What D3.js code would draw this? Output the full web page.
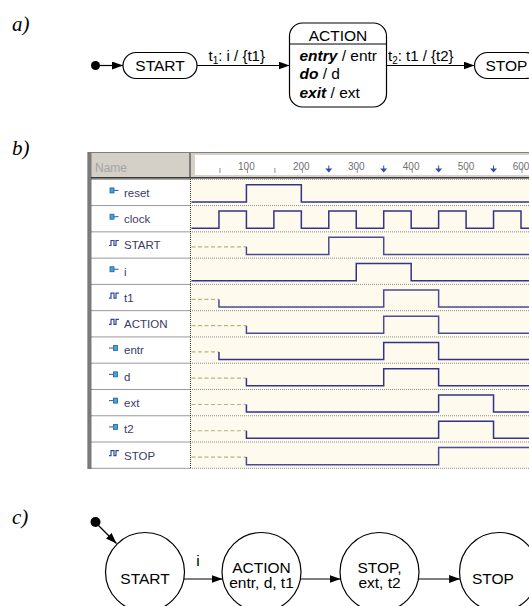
<!DOCTYPE html>
<html>
<head>
<meta charset="utf-8">
<script src="https://cdn.jsdelivr.net/npm/d3@7"></script>
<style>
body{margin:0;background:#fff;}
svg{display:block;}
</style>
</head>
<body>
<svg></svg>
<script>
var width = 529, height = 606;

// ---- b) waveform values
var signalNames = ["reset","clock","START","i","t1","ACTION","entr","d","ext","t2","STOP"];
var signalKinds = ["in","in","buried","in","buried","buried","out","out","out","out","buried"];
var unknownUntil = [0,0,100,0,50,100,50,100,100,100,100];
var highIntervals = [
  [[100,200]],
  [[50,100],[150,200],[250,300],[350,400],[450,500],[550,600]],
  [[250,350]],
  [[300,400]],
  [[350,450]],
  [[350,450]],
  [[350,450]],
  [[350,450]],
  [[450,550]],
  [[450,550]],
  [[450,640]]
];
var rulerLabels = [100,200,300,400,500,600];
var rulerMinor = [50,150];
var rulerMarkers = [250,350,450,550];

// ---- a) state chart
var aStates = ["START","ACTION","STOP"];
var aActions = [["entry","entr"],["do","d"],["exit","ext"]];
var aTransitions = [["t","1",": i / {t1}"],["t","2",": t1 / {t2}"]];

// ---- c) state diagram
var cStates = [["START"],["ACTION","entr, d, t1"],["STOP,","ext, t2"],["STOP"]];
var cLabels = ["i","",""];

var serif = "'Liberation Serif','Times New Roman',serif";
var sans = "'Liberation Sans',Arial,sans-serif";

var svg = d3.select("svg")
            .attr("width", width)
            .attr("height", height)
            .style("font-family", sans);

svg.append("defs").append("marker")
   .attr("id","arr")
   .attr("markerUnits","userSpaceOnUse")
   .attr("viewBox","0 0 11 8")
   .attr("markerWidth",11).attr("markerHeight",8)
   .attr("refX",11).attr("refY",4)
   .attr("orient","auto")
   .append("path").attr("d","M0,0L11,4L0,8Z").attr("fill","#000");

svg.select("defs").append("clipPath").attr("id","sigclip")
   .append("rect").attr("x",190).attr("y",175).attr("width",339).attr("height",300);

// panel letters
[["a)",31],["b)",155],["c)",524]].forEach(function(p){
  svg.append("text").attr("x",12).attr("y",p[1])
     .style("font-family",serif).style("font-style","italic").style("font-size","21px")
     .text(p[0]);
});

// ================= a)
var ga = svg.append("g").attr("stroke-width",1.2);
var yA = 65.5;
ga.append("circle").attr("cx",95.5).attr("cy",yA).attr("r",4.5).attr("fill","#000");
ga.append("line").attr("x1",100).attr("x2",123).attr("y1",yA).attr("y2",yA)
  .attr("stroke","#000").attr("marker-end","url(#arr)");

ga.append("rect").attr("x",123).attr("y",52.5).attr("width",74).attr("height",26).attr("rx",13)
  .attr("fill","#fff").attr("stroke","#000");
ga.append("text").attr("x",160).attr("y",70.5).attr("text-anchor","middle")
  .style("font-size","15.5px").text(aStates[0]);

ga.append("line").attr("x1",197).attr("x2",289.5).attr("y1",yA).attr("y2",yA)
  .attr("stroke","#000").attr("marker-end","url(#arr)");

ga.append("rect").attr("x",289.5).attr("y",23).attr("width",97).attr("height",84).attr("rx",13)
  .attr("fill","#fff").attr("stroke","#000");
ga.append("line").attr("x1",289.5).attr("x2",386.5).attr("y1",44).attr("y2",44).attr("stroke","#000");
ga.append("text").attr("x",338).attr("y",40.5).attr("text-anchor","middle")
  .style("font-size","15.5px").text(aStates[1]);
var actY = [61, 78.5, 98];
aActions.forEach(function(a,i){
  var t = ga.append("text").attr("x",299.5).attr("y",actY[i]).style("font-size","15.5px");
  t.append("tspan").style("font-weight","bold").style("font-style","italic").text(a[0]);
  t.append("tspan").text(" / " + a[1]);
});

ga.append("line").attr("x1",386.5).attr("x2",474.5).attr("y1",yA).attr("y2",yA)
  .attr("stroke","#000").attr("marker-end","url(#arr)");

ga.append("rect").attr("x",474.5).attr("y",52.5).attr("width",64).attr("height",26).attr("rx",13)
  .attr("fill","#fff").attr("stroke","#000");
ga.append("text").attr("x",506.5).attr("y",70.5).attr("text-anchor","middle")
  .style("font-size","15.5px").text(aStates[2]);

var trX = [208.5, 388];
aTransitions.forEach(function(tr,i){
  var t = ga.append("text").attr("x",trX[i]).attr("y",60.5).style("font-size","15px");
  t.append("tspan").text(tr[0]);
  t.append("tspan").attr("dy",3).style("font-size","10px").text(tr[1]);
  t.append("tspan").attr("dy",-3).text(tr[2]);
});

// ================= b)
var xScale = d3.scaleLinear().domain([0,600]).range([191.5,521]);
var yScale = d3.scaleBand().domain(signalNames).range([179.3,468.3]);
var bw = yScale.bandwidth();
var tEnd = xScale.invert(width);

var gb = svg.append("g");
// frame / header
gb.append("rect").attr("x",88).attr("y",152).attr("width",441).attr("height",27).attr("fill","#d4d0c8");
gb.append("line").attr("x1",87).attr("x2",529).attr("y1",152.5).attr("y2",152.5).attr("stroke","#808080");
gb.append("rect").attr("x",91.5).attr("y",179).attr("width",98.5).attr("height",289.3).attr("fill","#fff");
gb.append("rect").attr("x",190).attr("y",179).attr("width",339).attr("height",289.3).attr("fill","#fffaee");
gb.append("rect").attr("x",87).attr("y",152).attr("width",4.5).attr("height",317).attr("fill","#7a7a7a");
gb.append("line").attr("x1",87.5).attr("x2",87.5).attr("y1",152).attr("y2",469).attr("stroke","#a8a8a8");
gb.append("text").attr("x",95).attr("y",171.5).attr("fill","#a4a4a4").style("font-size","12px").text("Name");
gb.append("line").attr("x1",190).attr("x2",190).attr("y1",153).attr("y2",178).attr("stroke","#606060").attr("stroke-width",1.5);
gb.append("rect").attr("x",195).attr("y",155).attr("width",334).attr("height",20).attr("fill","#fff");
gb.append("line").attr("x1",91).attr("x2",529).attr("y1",177.8).attr("y2",177.8).attr("stroke","#3a3a3a").attr("stroke-width",1.5);

// ruler
gb.selectAll(".rl").data(rulerLabels).enter().append("text")
  .attr("x",d => xScale(d)).attr("y",170).attr("text-anchor","middle")
  .attr("fill","#707070").style("font-size","10px").text(d => d);
gb.selectAll(".rt").data(rulerLabels.concat(rulerMinor)).enter().append("line")
  .attr("x1",d => xScale(d)+1).attr("x2",d => xScale(d)+1).attr("y1",168).attr("y2",173)
  .attr("stroke","#909090");
gb.selectAll(".rm").data(rulerMarkers).enter().append("path")
  .attr("d",d => "M"+(xScale(d)-3.5)+",168.5h7l-3.5,4z M"+(xScale(d)-0.5)+",165.5h1v3h-1z")
  .attr("fill","#3050a8");

// row separators
var seps = [yScale.range()[0]].concat(signalNames.map(d => yScale(d)+bw));
gb.selectAll(".sn").data(seps).enter().append("line")
  .attr("x1",91.5).attr("x2",190).attr("y1",d => d).attr("y2",d => d)
  .attr("stroke","#333").attr("stroke-dasharray","1,1");
gb.selectAll(".ss").data(seps).enter().append("line")
  .attr("x1",190).attr("x2",529).attr("y1",d => d).attr("y2",d => d)
  .attr("stroke","#8a8a8a").attr("stroke-dasharray","1,1");
gb.append("line").attr("x1",190.5).attr("x2",190.5).attr("y1",179).attr("y2",468.3)
  .attr("stroke","#333").attr("stroke-dasharray","1,1");

// names + icons
signalNames.forEach(function(name,i){
  var top = yScale(name), cy = top + bw/2 - 2;
  var kind = signalKinds[i];
  if (kind === "in") {
    gb.append("rect").attr("x",110).attr("y",cy-2.5).attr("width",4).attr("height",5)
      .attr("fill","#38a8d8").attr("stroke","#2a5aa8").attr("stroke-width",0.8);
    gb.append("line").attr("x1",114).attr("x2",118.5).attr("y1",cy).attr("y2",cy).attr("stroke","#2a5aa8");
  } else if (kind === "out") {
    gb.append("line").attr("x1",109).attr("x2",113.5).attr("y1",cy).attr("y2",cy).attr("stroke","#2a5aa8");
    gb.append("rect").attr("x",113.5).attr("y",cy-2.5).attr("width",4).attr("height",5)
      .attr("fill","#38a8d8").attr("stroke","#2a5aa8").attr("stroke-width",0.8);
  } else {
    gb.append("path").attr("d","M109,"+(cy+2.5)+"h2v-5h3v5h2v-5h3")
      .attr("fill","none").attr("stroke","#2a4aa0").attr("stroke-width",1.2);
  }
  gb.append("text").attr("x",124).attr("y",top+17.5).attr("fill","#3a3a6a")
    .style("font-size","11.5px").text(name);
});

// waveforms
var wg = gb.append("g").attr("clip-path","url(#sigclip)");
signalNames.forEach(function(name,i){
  var top = yScale(name);
  var hi = top + 5.5, lo = top + 22.6, unk = top + 15;
  var t0 = unknownUntil[i];
  if (t0 > 0) {
    wg.append("line").attr("x1",xScale(0)).attr("x2",xScale(t0)).attr("y1",unk).attr("y2",unk)
      .attr("stroke","#b4b484").attr("stroke-width",1.2).attr("stroke-dasharray","4,2.5");
  }
  var p = d3.path();
  p.moveTo(xScale(t0), t0 > 0 ? unk : lo);
  p.lineTo(xScale(t0), lo);
  highIntervals[i].forEach(function(iv){
    p.lineTo(xScale(iv[0]), lo);
    p.lineTo(xScale(iv[0]), hi);
    p.lineTo(xScale(iv[1]), hi);
    p.lineTo(xScale(iv[1]), lo);
  });
  p.lineTo(xScale(tEnd+40), lo);
  wg.append("path").attr("d",p.toString()).attr("fill","none")
    .attr("stroke", signalKinds[i] === "buried" ? "#4a4a96" : "#33338a").attr("stroke-width",1.5);
});

// ================= c)
var gc = svg.append("g").attr("stroke-width",1.2);
var cx = [145, 261.5, 379.5, 499], cyC = 572, r = 39.5, yArr = 579;
gc.append("circle").attr("cx",95.5).attr("cy",522).attr("r",5).attr("fill","#000");
gc.append("line").attr("x1",98.5).attr("y1",525.5).attr("x2",116.5).attr("y2",543.5)
  .attr("stroke","#000").attr("marker-end","url(#arr)");
var dx = Math.sqrt(r*r - (yArr-cyC)*(yArr-cyC));
cStates.forEach(function(lines,i){
  gc.append("circle").attr("cx",cx[i]).attr("cy",cyC).attr("r",r)
    .attr("fill","#fff").attr("stroke","#000");
  var tx = i === 3 ? cx[i]-6 : cx[i];
  var ys = lines.length === 1 ? [584] : [572.5, 588];
  lines.forEach(function(l,j){
    gc.append("text").attr("x",tx).attr("y",ys[j]).attr("text-anchor","middle")
      .style("font-size","15.5px").text(l);
  });
  if (i < cStates.length-1) {
    gc.append("line").attr("x1",cx[i]+dx).attr("x2",cx[i+1]-dx).attr("y1",yArr).attr("y2",yArr)
      .attr("stroke","#000").attr("marker-end","url(#arr)");
    if (cLabels[i]) gc.append("text").attr("x",(cx[i]+cx[i+1])/2 - 7).attr("y",566)
      .style("font-size","15.5px").text(cLabels[i]);
  }
});
</script>
</body>
</html>
